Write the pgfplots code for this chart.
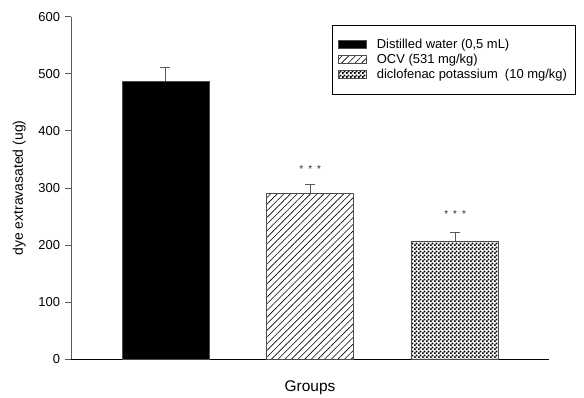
\documentclass[border=0pt]{standalone}
\usepackage{fontspec}
\setmainfont{Liberation Sans}
\usepackage{pgfplots}
\pgfplotsset{compat=1.18}
\usetikzlibrary{patterns,patterns.meta}
\pgfdeclarepatternformonly{checker}{\pgfqpoint{0bp}{0bp}}{\pgfqpoint{3.6bp}{3.6bp}}{\pgfqpoint{3.6bp}{3.6bp}}{%
  \pgfpathrectangle{\pgfqpoint{0bp}{0bp}}{\pgfqpoint{1.9bp}{1.9bp}}%
  \pgfpathrectangle{\pgfqpoint{1.8bp}{1.8bp}}{\pgfqpoint{1.9bp}{1.9bp}}%
  \pgfusepath{fill}}
\pgfplotstableread{
x y e
1 487 24
}\tA
\pgfplotstableread{
x y e
2 291 16
}\tB
\pgfplotstableread{
x y e
3 207 15
}\tC
\pgfplotsset{myerr/.style={
  error bars/y dir=plus, error bars/y explicit,
  error bars/error bar style={gray!70!black, line width=0.9bp, solid},
  error bars/error mark options={gray!70!black, line width=0.9bp, mark size=5bp, rotate=90, solid},
}}
\begin{document}
\begin{tikzpicture}
\begin{axis}[
  scale only axis, width=478bp, height=342.6bp,
  xmin=0.348, xmax=3.648, ymin=0, ymax=600,
  axis x line*=bottom, axis y line*=left,
  x axis line style={black, line width=0.8bp, -},
  y axis line style={gray!70!black, line width=0.8bp, -},
  xtick=\empty,
  ytick={0,100,...,600},
  ytick style={gray!70!black, line width=0.8bp},
  tick align=outside, major tick length=6bp,
  /pgf/number format/assume math mode=true,
  yticklabel style={font=\fontsize{13}{15}\selectfont, xshift=-1.5bp},
  ylabel={dye extravasated (ug)},
  ylabel style={font=\fontsize{14}{16}\selectfont, at={(axis description cs:-0.108,0.5)}, anchor=center},
  xlabel={Groups},
  xlabel style={font=\fontsize{15.5}{17}\selectfont, at={(axis description cs:0.5,-0.084)}, anchor=center},
  ybar, bar width=87bp, bar shift=0pt,
  area legend,
  legend image code/.code={\draw[#1] (0bp,-4bp) rectangle (28bp,4bp);},
  legend cell align=left,
  legend style={at={(rel axis cs:0.546,0.976)}, anchor=north west, draw=black, line width=0.6bp,
    font=\fontsize{13}{15}\selectfont, inner xsep=6bp, inner ysep=12bp, row sep=0bp,
    /tikz/every odd column/.append style={column sep=8bp}},
]
\addplot[fill=black, draw=gray!60!black, line width=0.6bp, myerr] table[x=x, y=y, y error=e]{\tA};
\addlegendentry{Distilled water (0,5 mL)}
\addplot[pattern={Lines[angle=45, distance=4.7bp, line width=0.6bp]}, draw=gray!60!black, line width=0.6bp, myerr] table[x=x, y=y, y error=e]{\tB};
\addlegendentry{OCV (531 mg/kg)}
\addplot[pattern=checker, draw=gray!60!black, line width=0.6bp, myerr] table[x=x, y=y, y error=e]{\tC};
\addlegendentry{diclofenac potassium\ \ (10 mg/kg)}
\node[font=\fontsize{10}{10}\selectfont, text=gray!30!black] at (axis cs:2,333) {*\hspace{5bp}*\hspace{5bp}*};
\node[font=\fontsize{10}{10}\selectfont, text=gray!30!black] at (axis cs:3,254) {*\hspace{5bp}*\hspace{5bp}*};
\end{axis}
\pgfresetboundingbox
\path[use as bounding box] (current axis.south west) ++(-71bp,-38.7bp) rectangle ++(584bp,398bp);
\end{tikzpicture}
\end{document}
